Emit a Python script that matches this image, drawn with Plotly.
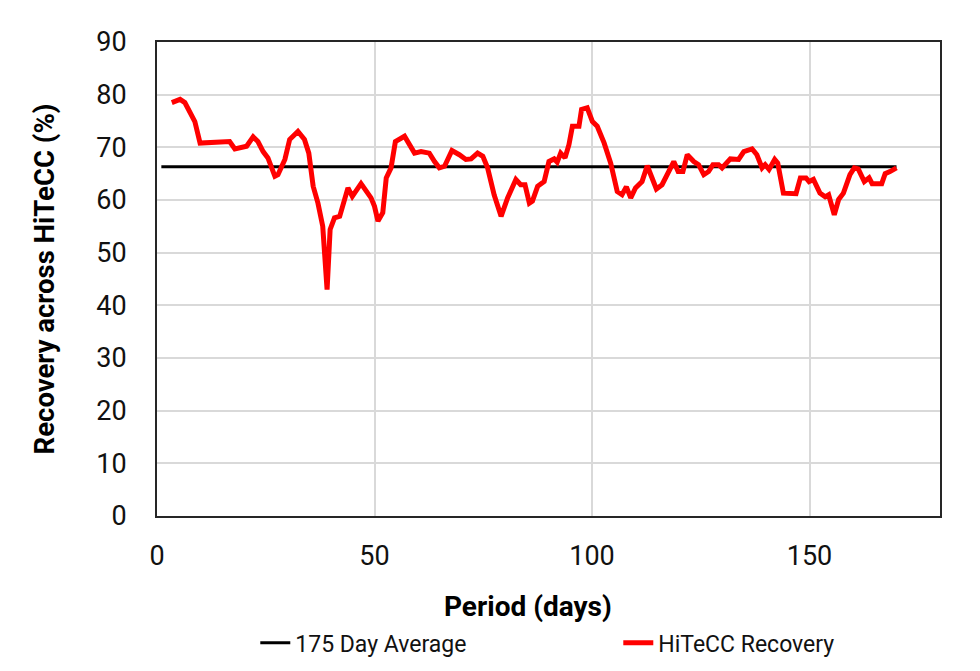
import plotly.graph_objects as go

# 175 day average line
avg_x = [1, 170]
avg_y = [66.3, 66.3]

# HiTeCC recovery
days = [3.4, 5.3, 6.4, 7.6, 8.7, 9.9, 16.7, 17.9, 20.6, 22.1, 23.2, 24.4, 25.5, 27.1, 27.8,
        29.4, 30.5, 32.4, 33.9, 34.9, 35.9, 37.0, 38.1, 39.1, 39.8, 40.8, 42.0, 43.9, 44.9,
        46.9, 49.2, 50.0, 50.8, 51.9, 52.7, 53.8, 54.8, 56.9, 58.0, 59.2, 60.7, 62.6, 63.8,
        64.9, 66.1, 67.8, 69.5, 71.0, 72.2, 73.7, 74.9, 76.0, 77.5, 79.1, 80.6, 82.5, 83.6,
        84.6, 85.6, 86.3, 87.5, 89.0, 90.1, 91.3, 92.0, 92.8, 93.8, 94.7, 95.5, 97.0, 97.6,
        98.9, 100.1, 101.2, 102.8, 104.3, 105.8, 106.9, 107.9, 108.9, 110.0, 111.5, 112.7,
        113.7, 114.8, 116.1, 117.7, 118.8, 119.8, 120.9, 121.9, 123.4, 124.5, 125.7, 126.8,
        127.8, 129.1, 129.9, 131.8, 133.7, 134.9, 136.8, 137.9, 139.1, 139.8, 140.7, 142.0,
        142.7, 144.0, 146.9, 147.9, 149.2, 149.9, 150.9, 152.4, 153.6, 154.4, 155.7, 156.7,
        157.8, 159.3, 160.3, 161.2, 162.6, 163.7, 164.4, 166.6, 167.4, 168.5, 170.0]
recovery = [78.5, 79.1, 78.5, 76.8, 74.9, 70.8, 71.1, 69.7, 70.2, 72.0, 71.1, 69.2, 68.0, 64.5, 64.8,
            67.7, 71.5, 73.0, 71.5, 68.9, 62.6, 59.4, 55.0, 43.0, 54.4, 56.6, 56.9, 62.3, 60.7,
            63.1, 60.4, 58.8, 56.0, 57.6, 64.2, 66.1, 71.1, 72.1, 70.5, 68.9, 69.2, 68.9, 67.3,
            66.1, 66.4, 69.4, 68.6, 67.7, 67.8, 68.9, 68.3, 66.1, 61.0, 56.9, 60.4, 63.9, 62.9,
            62.9, 59.4, 59.8, 62.6, 63.5, 67.3, 67.8, 67.2, 68.9, 68.0, 70.5, 74.0, 74.0, 77.2,
            77.5, 74.9, 74.0, 70.8, 67.0, 61.6, 61.0, 62.5, 60.4, 62.3, 63.5, 66.5,
            64.5, 62.1, 62.9, 65.8, 67.3, 65.4, 65.4, 68.6, 67.3, 66.7, 64.8, 65.4,
            66.7, 66.7, 66.1, 67.8, 67.7, 69.2, 69.7, 68.6, 66.1, 66.7, 65.8, 67.7,
            67.0, 61.3, 61.2, 64.2, 64.2, 63.5, 63.9, 61.3, 60.6, 61.0, 57.2, 60.1,
            61.3, 64.8, 66.1, 65.9, 63.5, 64.2, 63.1, 63.1, 65.0, 65.4, 66.1]

x_ticks = [0, 50, 100, 150]
y_ticks = [0, 10, 20, 30, 40, 50, 60, 70, 80, 90]

FONT = "Roboto, sans-serif"

fig = go.Figure()
fig.add_trace(go.Scatter(x=avg_x, y=avg_y, mode="lines", name="175 Day Average",
                         line=dict(color="black", width=3)))
fig.add_trace(go.Scatter(x=days, y=recovery, mode="lines", name="HiTeCC Recovery",
                         line=dict(color="#ff0000", width=5)))

fig.update_layout(
    width=980, height=671,
    margin=dict(l=157, r=40, t=42, b=155, autoexpand=False),
    paper_bgcolor="white", plot_bgcolor="white",
    font=dict(family=FONT, color="black", size=22),
    showlegend=True,
    legend=dict(orientation="h", xref="container", yref="container",
                x=0.2605, xanchor="left", y=0.042, yanchor="middle",
                font=dict(size=23, family=FONT, color="#111111"),
                entrywidth=318, itemwidth=30,
                bgcolor="rgba(0,0,0,0)"),
    annotations=[dict(text="<b>Period (days)</b>", xref="paper", yref="paper",
                      x=0.474, y=-0.19, xanchor="center", yanchor="middle",
                      showarrow=False, font=dict(size=28, family=FONT, color="black"))],
)
fig.update_xaxes(
    range=[0, 180], tickvals=x_ticks, showgrid=True, gridcolor="#d9d9d9", gridwidth=1.5,
    showline=True, linecolor="#262626", linewidth=2, mirror=True, zeroline=False,
    ticks="", ticklabelstandoff=15, tickfont=dict(size=27, color="#111111"),
)
fig.update_yaxes(
    range=[0, 90], tickvals=y_ticks, showgrid=True, gridcolor="#d9d9d9", gridwidth=1.5,
    showline=True, linecolor="#262626", linewidth=2, mirror=True, zeroline=False,
    ticks="", ticklabelstandoff=23, tickfont=dict(size=27, color="#111111"),
    title=dict(text="<b>Recovery across HiTeCC (%)</b>", font=dict(size=27.5), standoff=34),
)

fig.write_html("out.html")
